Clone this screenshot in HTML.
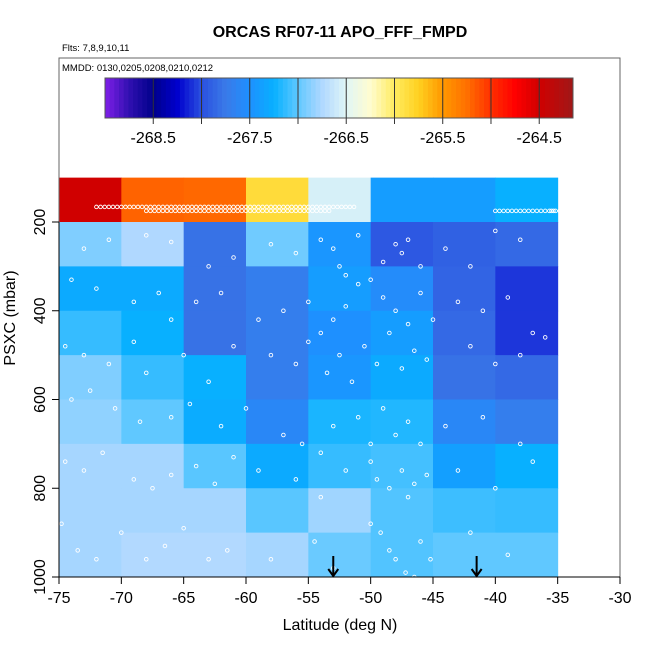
<!DOCTYPE html>
<html><head><meta charset="utf-8"><style>
body{margin:0;background:#fff;}
svg{display:block;font-family:"Liberation Sans",sans-serif;}
</style></head><body>
<svg id="c" width="650" height="650" viewBox="0 0 650 650"></svg>
<script>
const latEdges=[-75,-70,-65,-60,-55,-50,-45,-40,-35];
const presEdges=[100,200,300,400,500,600,700,800,900,1000];
const cellValues=[
[-264.5,-265.2,-265.22,-265.85,-266.55,-267.4,-267.4,-267.25],
[-266.9,-266.75,-267.8,-266.95,-267.45,-267.95,-267.9,-267.85],
[-267.3,-267.3,-267.8,-267.7,-267.4,-267.55,-267.88,-268.08],
[-267.12,-267.25,-267.8,-267.7,-267.5,-267.4,-267.85,-268.08],
[-266.9,-267.12,-267.25,-267.7,-267.45,-267.3,-267.8,-267.85],
[-266.85,-267.0,-267.28,-267.6,-267.2,-267.18,-267.6,-267.7],
[-266.78,-266.78,-267.02,-267.3,-267.12,-267.08,-267.38,-267.25],
[-266.78,-266.78,-266.78,-267.02,-266.8,-267.04,-267.1,-267.12],
[-266.78,-266.74,-266.74,-266.78,-266.97,-267.04,-267.0,-267.0]];
const xTicks=[-75,-70,-65,-60,-55,-50,-45,-40,-35,-30];
const yTicks=[200,400,600,800,1000];
const cbTicks=[-268.5,-267.5,-266.5,-265.5,-264.5];
const cbDividers=[-268.5,-268,-267.5,-267,-266.5,-266,-265.5,-265,-264.5];
const arrowLats=[-53,-41.5];
const ptLat=[-73,-71,-68,-66,-63,-61,-58,-56,-54,-53,-52.5,-52,-51,-49,-48,-47.5,-47,-46,-44,-42,-40,-38,
-74,-72,-69,-67,-66,-64,-62,-59,-57,-55,-54,-53,-52,-51,-50,-49,-48,-47,-46,-45,-43,-41,-39,-37,
-74.5,-73,-71,-69,-68,-65,-63,-61,-58,-56,-55,-53.5,-52.5,-51.5,-50.5,-49.5,-48.5,-47.5,-46.5,-45.5,-42,-40,-38,-36,
-74,-72.5,-70.5,-68.5,-66,-64.5,-62,-60,-57,-55.5,-54,-53,-51,-50,-49,-48,-47,-46,-44,-41,-38,
-74.5,-73,-71.5,-69,-67.5,-66,-64,-62.5,-61,-59,-56,-54,-52,-50,-49.5,-48.5,-47.5,-47,-46.5,-45.5,-43,-40,-37,
-74.8,-73.5,-72,-70,-68,-66.5,-65,-63,-61.5,-58,-54.5,-53,-50,-49.2,-48.5,-48,-47.2,-46.5,-46,-45.2,-42,-39];
const ptPres=[260,240,230,245,300,280,250,270,240,260,300,320,230,290,250,270,240,300,260,300,220,240,
330,350,380,360,420,380,360,420,400,380,450,420,390,340,330,370,400,430,360,420,380,400,370,450,
480,500,520,470,540,500,560,480,500,520,470,540,500,560,480,520,450,530,490,510,480,520,500,460,
600,580,620,650,640,610,660,620,680,700,720,660,640,700,620,680,650,700,660,640,700,
740,760,720,780,800,770,750,790,730,760,780,820,760,740,780,800,760,820,790,770,760,800,740,
880,940,960,900,960,930,890,960,940,960,920,980,880,900,940,960,990,1000,920,960,900,950];
const trackLat1=[-72,-71,-70,-69,-68,-67,-66,-65,-64,-63,-62,-61,-60,-59,-58,-57,-56,-55,-54,-53,-52];
const trackLat2=[-68,-67,-66,-65,-64,-63,-62,-61,-60,-59,-58,-57,-56,-55,-54];
const trackLat3=[-40,-39,-38,-37,-36,-35.5];

const NS='http://www.w3.org/2000/svg';
const svg=document.getElementById('c');
const X=v=>59+(v+75)*(561/45);
const Y=p=>222+(p-200)*0.44375;
const CB0=-269.0,CB1=-264.15;
const CX=v=>105+(v-CB0)/(CB1-CB0)*468;
const stops=[[-269,'#8020e8'],[-268.75,'#3010b0'],[-268.5,'#00008b'],[-268.25,'#0000cd'],[-268,'#2a50e0'],[-267.75,'#3a7ae8'],[-267.5,'#1e90ff'],[-267.25,'#08b0ff'],[-267,'#60c8ff'],[-266.75,'#b0d8ff'],[-266.5,'#e0f6f6'],[-266.25,'#fffcd0'],[-266,'#ffec60'],[-265.75,'#ffd020'],[-265.5,'#ff9800'],[-265.25,'#ff7000'],[-265,'#ff3000'],[-264.75,'#ff0000'],[-264.5,'#d00000'],[-264.15,'#a01818']];
function hex(h){return [1,3,5].map(i=>parseInt(h.substr(i,2),16));}
function col(v){
 if(v<=stops[0][0])return stops[0][1];
 for(let i=1;i<stops.length;i++){if(v<=stops[i][0]){const a=stops[i-1],b=stops[i];const t=(v-a[0])/(b[0]-a[0]);const ca=hex(a[1]),cb=hex(b[1]);return 'rgb('+ca.map((c,k)=>Math.round(c+(cb[k]-c)*t)).join(',')+')';}}
 return stops[stops.length-1][1];}
function el(t,a,p){const e=document.createElementNS(NS,t);for(const k in a)e.setAttribute(k,a[k]);(p||svg).appendChild(e);return e;}

const gH=el('g',{});


for(let r=0;r<cellValues.length;r++)for(let c=0;c<cellValues[r].length;c++){
 const x0=X(latEdges[c]),x1=X(latEdges[c+1]),y0=Y(presEdges[r]),y1=Y(presEdges[r+1]);
 const e=el('rect',{x:x0,y:y0,width:x1-x0+0.5,height:y1-y0+0.5,fill:col(cellValues[r][c])},gH);
 
 
}
const gP=el('g',{fill:'none',stroke:'#fff','stroke-width':0.9});


function pt(la,p){const e=el('circle',{cx:X(la),cy:Y(p),r:1.8},gP);}
for(let i=0;i<ptLat.length;i++)pt(ptLat[i],ptPres[i]);
for(let k=0;k<trackLat1.length;k++)for(let s=0;s<3;s++)pt(trackLat1[k]+s/3,166);
for(let k=0;k<trackLat2.length;k++)for(let s=0;s<3;s++)pt(trackLat2[k]+s/3,175);
for(let k=0;k<trackLat3.length;k++)for(let s=0;s<3;s++)pt(trackLat3[k]+s/3,175);
for(const a of arrowLats){const g=el('g',{stroke:'#000','stroke-width':2,fill:'none'});
 
 
 el('line',{x1:X(a),y1:556,x2:X(a),y2:576},g);el('polyline',{points:(X(a)-5)+',569 '+X(a)+',576 '+(X(a)+5)+',569'},g);}
const box=el('rect',{x:59,y:58,width:561,height:519,fill:'none',stroke:'#666','stroke-width':1});

el('line',{x1:59,y1:577,x2:620,y2:577,stroke:'#000'});
for(const t of xTicks){el('line',{x1:X(t),y1:577,x2:X(t),y2:584,stroke:'#000'});
 const e=el('text',{x:X(t),y:603,'font-size':16,'text-anchor':'middle'});e.textContent=t;
 }
el('line',{x1:59,y1:Y(200),x2:59,y2:Y(1000),stroke:'#000'});
for(const t of yTicks){el('line',{x1:52,y1:Y(t),x2:59,y2:Y(t),stroke:'#000'});
 const e=el('text',{x:45,y:Y(t),'font-size':16,'text-anchor':'middle',transform:'rotate(-90 45 '+Y(t)+')'});e.textContent=t;
 }
const gC=el('g',{});

for(let i=0;i<100;i++){const v0=CB0+(CB1-CB0)*i/100,v1=CB0+(CB1-CB0)*(i+1)/100;el('rect',{x:CX(v0),y:78,width:CX(v1)-CX(v0)+0.5,height:40,fill:col((v0+v1)/2)},gC);}
el('rect',{x:105,y:78,width:468,height:40,fill:'none',stroke:'#555'},gC);
for(const d of cbDividers){el('line',{x1:CX(d),y1:78,x2:CX(d),y2:124,stroke:'#333','stroke-width':1},gC);}
for(const t of cbTicks){const e=el('text',{x:CX(t),y:143,'font-size':16,'text-anchor':'middle'},gC);e.textContent=t;
 }
function txt(s,a,n){const e=el('text',a);e.textContent=s;}
txt('ORCAS RF07-11 APO_FFF_FMPD',{x:340,y:37,'font-size':16,'font-weight':'bold','text-anchor':'middle'},'chart-title');
txt('Flts: 7,8,9,10,11',{x:62,y:51,'font-size':9.5},'flights-note');
txt('MMDD: 0130,0205,0208,0210,0212',{x:62,y:71,'font-size':9.5},'dates-note');
txt('Latitude (deg N)',{x:340,y:630,'font-size':16,'text-anchor':'middle'},'x-axis-title');
txt('PSXC (mbar)',{x:15,y:318,'font-size':16,'text-anchor':'middle',transform:'rotate(-90 15 318)'},'y-axis-title');
</script>
</body></html>
